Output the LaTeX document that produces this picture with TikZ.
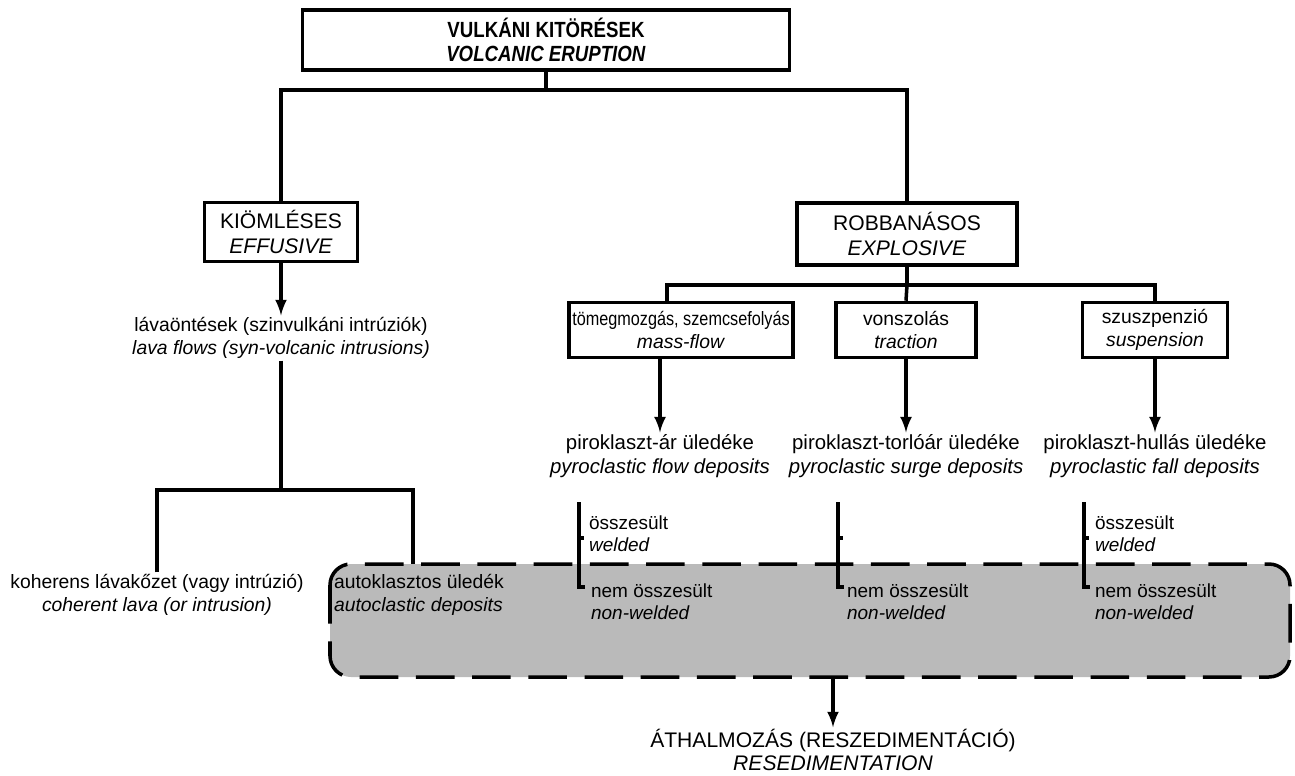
\documentclass[tikz,border=0pt]{standalone}
\usepackage{fontspec}
\setmainfont{Liberation Sans}
\newfontfamily\titlefont[FakeStretch=0.85]{Liberation Sans}
\usetikzlibrary{arrows,positioning}
\tikzset{
  box/.style={
    rectangle,
    draw=black,
    line width=2pt,
    align=center,
    inner sep=2pt,
    font=\fontsize{11}{13}\selectfont
    },
  label/.style={
    align=center,
    inner sep=1pt,
    font=\fontsize{11.6}{13.5}\selectfont
    },
  small/.style={
    align=left,
    inner sep=1pt,
    anchor=west,
    font=\fontsize{10.8}{12.5}\selectfont
    },
  conn/.style={line width=2pt},
  arrow/.style={line width=2pt,-latex},
  zone/.style={
    draw=black,
    fill=black!27,
    line width=2pt,
    dash pattern=on 22pt off 10pt,
    rounded corners=12pt
    },
}

\begin{document}
\begin{tikzpicture}[x=0.02cm,y=-0.02cm]
  \useasboundingbox (0,0) rectangle (1295,775);

  % resedimentation zone behind everything
  \draw[zone] (330,564) rectangle (1290,677);

  % top levels
  \node[box,minimum width=9.74cm,minimum height=1.2cm,
        font=\titlefont\bfseries\fontsize{12.5}{14}\selectfont] (erupt) at (546,40)
        {VULKÁNI KITÖRÉSEK\\\textit{VOLCANIC ERUPTION}};
  \node[box,minimum width=3.06cm,minimum height=1.18cm,
        font=\fontsize{12}{14}\selectfont] (effus) at (281,232)
        {KIÖMLÉSES\\\textit{EFFUSIVE}};
  \node[box,minimum width=4.4cm,minimum height=1.24cm,
        font=\fontsize{12}{14}\selectfont] (explo) at (907,234)
        {ROBBANÁSOS\\\textit{EXPLOSIVE}};

  % transport
  \node[box,minimum width=4.46cm,minimum height=1.1cm] (mass) at (681,330)
        {\scalebox{0.84}[1]{tömegmozgás, szemcsefolyás}\\\textit{mass-flow}};
  \node[box,minimum width=2.8cm,minimum height=1.1cm] (tract) at (906,330)
        {vonszolás\\\textit{traction}};
  \node[box,minimum width=2.9cm,minimum height=1.1cm] (susp) at (1155,330)
        {szuszpenzió\\\textit{suspension}};

  % deposits
  \node[label,font=\fontsize{11}{13}\selectfont] (lava) at (281,338)
        {lávaöntések (szinvulkáni intrúziók)\\\textit{lava flows (syn-volcanic intrusions)}};
  \node[label] (flow) at (660,456)
        {piroklaszt-ár üledéke\\\textit{pyroclastic flow deposits}};
  \node[label] (surge) at (906,456)
        {piroklaszt-torlóár üledéke\\\textit{pyroclastic surge deposits}};
  \node[label] (fall) at (1155,456)
        {piroklaszt-hullás üledéke\\\textit{pyroclastic fall deposits}};
  \node[label,font=\fontsize{11}{13}\selectfont] (coher) at (157,595)
        {koherens lávakőzet (vagy intrúzió)\\\textit{coherent lava (or intrusion)}};
  \node[label,font=\fontsize{11}{13}\selectfont,align=left,anchor=west] (auto) at (332,595)
        {autoklasztos üledék\\\textit{autoclastic deposits}};
  \node[label,font=\fontsize{12}{13}\selectfont] (resed) at (833,750)
        {ÁTHALMOZÁS (RESZEDIMENTÁCIÓ)\\\textit{RESEDIMENTATION}};

  % welded / non-welded
  \node[small] (flowW) at (587,534) {összesült\\\textit{welded}};
  \node[small] (flowN) at (589,602) {nem összesült\\\textit{non-welded}};
  \node[small] (surgeN) at (845,602) {nem összesült\\\textit{non-welded}};
  \node[small] (fallW) at (1093,534) {összesült\\\textit{welded}};
  \node[small] (fallN) at (1093,602) {nem összesült\\\textit{non-welded}};

  % branching
  \coordinate (top) at (546,90);
  \coordinate (mid) at (907,285);
  \coordinate (lavaJ) at (281,490);
  \coordinate (zoneB) at (833,677);
  \draw[conn] (erupt.south) -- (top);
  \draw[conn] (effus.north) |- (top) -| (explo.north);
  \draw[conn] (explo.south) -- (mid);
  \draw[conn] (mass.north -| 667,0) |- (mid) -| (susp.north);
  \draw[conn] (tract.north) -- (mid);

  \draw[arrow] (effus) -- (lava);
  \draw[arrow] (mass.south -| flow) -- (flow);
  \draw[arrow] (tract) -- (surge);
  \draw[arrow] (susp) -- (fall);
  \draw[arrow] (zoneB) -- (resed);

  \draw[conn] (lava) -- (lavaJ);
  \draw[conn] (coher.north) |- (lavaJ) -| (413,564);

  % brackets
  \foreach \bx/\nm in {579/flow, 838/surge, 1084/fall}{
    \draw[conn] (\bx,502) -- (\bx,587) -- (\bx+6,587);
    \draw[conn] (\bx,538) -- (\bx+5,538);
  }
\end{tikzpicture}
\end{document}
